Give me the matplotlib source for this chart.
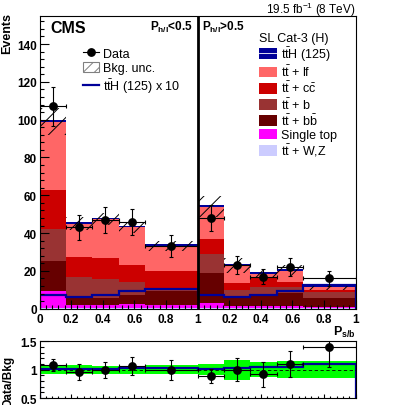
import numpy as np
import matplotlib
matplotlib.use('Agg')
import matplotlib.pyplot as plt
import matplotlib.transforms as mtransforms
from matplotlib.patches import Patch
from matplotlib.lines import Line2D
from matplotlib.ticker import MultipleLocator, FixedLocator, FixedFormatter

plt.rcParams['font.family'] = 'Liberation Sans'
plt.rcParams['mathtext.fontset'] = 'custom'
plt.rcParams['mathtext.rm'] = 'Liberation Sans'
plt.rcParams['mathtext.it'] = 'Liberation Sans:italic'
plt.rcParams['mathtext.bf'] = 'Liberation Sans:bold'
plt.rcParams['hatch.linewidth'] = 0.7

# two P_h/l regions put side by side on one axis (0-1 and 1-2)
edges = np.array([0, 1/6, 1/3, 1/2, 2/3, 1, 7/6, 4/3, 3/2, 5/3, 2])
tick_pos = [0, 0.2, 0.4, 0.6, 0.8, 1.0, 1.2, 1.4, 1.6, 1.8, 2.0]
tick_labels = ['0', '0.2', '0.4', '0.6', '0.8', '1', '0.2', '0.4', '0.6', '0.8', '1']

data = np.array([107, 43, 47, 46, 33, 48, 23, 17, 22, 16])

# background processes, stacked bottom -> top
ttv = np.array([0.5, 0.3, 0.3, 0.4, 0.4, 0.5, 0.3, 0.3, 0.3, 0.2])
single_top = np.array([9.0, 1.7, 1.7, 2.1, 1.6, 2.5, 1.2, 1.0, 1.0, 0.8])
tt_bb = np.array([15.9, 3.5, 3.5, 5.0, 7.5, 15.7, 5.0, 6.2, 7.2, 4.8])
tt_b = np.array([16.8, 11.4, 10.0, 6.5, 1.5, 10.2, 3.5, 3.8, 3.0, 2.9])
tt_cc = np.array([20.6, 10.3, 11.2, 9.1, 9.1, 8.0, 3.6, 4.7, 2.5, 1.3])
tt_lf = np.array([36.2, 17.8, 20.8, 19.9, 12.9, 17.1, 9.4, 2.5, 6.0, 1.5])
tth = np.array([0.74, 0.63, 0.70, 0.93, 1.04, 0.72, 0.60, 0.72, 0.95, 1.23])
bkg_unc = np.array([7.0, 3.4, 3.3, 3.0, 2.6, 5.4, 4.0, 2.4, 3.0, 1.7])

stack = [
    (ttv, '#CCCCFF'),
    (single_top, '#FF00FF'),
    (tt_bb, '#660000'),
    (tt_b, '#993333'),
    (tt_cc, '#CC0000'),
    (tt_lf, '#FF6666'),
]
TTH_COL = '#000099'

lefts = edges[:-1]
widths = np.diff(edges)
centers = lefts + widths / 2

fig = plt.figure(figsize=(3.95, 4.06), dpi=100)
ax = fig.add_axes([0.1, 0.2372, 0.8005, 0.7217])
rax = fig.add_axes([0.1, 0.01724, 0.8005, 0.1397])

# stacked backgrounds
bottom = np.zeros(len(data))
for vals, col in stack:
    ax.bar(lefts, vals, width=widths, bottom=bottom, align='edge', color=col, lw=0)
    bottom = bottom + vals
bkg = bottom.copy()
ax.bar(lefts, tth, width=widths, bottom=bkg, align='edge', color=TTH_COL, lw=0)

# background uncertainty
ax.bar(lefts, 2 * bkg_unc, width=widths, bottom=bkg - bkg_unc, align='edge',
       fill=False, hatch='//', edgecolor='black', lw=0)

# signal x10
ax.stairs(tth * 10, edges, color=TTH_COL, lw=1.6)

# data
ax.errorbar(centers, data, yerr=np.sqrt(data), xerr=widths / 2, fmt='o', color='black',
            ms=5.3, elinewidth=0.8, capsize=1.2, capthick=0.8, zorder=5)

ax.axvline(1.0, color='black', lw=2)

ax.set_xlim(0, 2)
ax.set_ylim(0, 155)
ax.xaxis.set_major_locator(FixedLocator(tick_pos))
ax.xaxis.set_major_formatter(FixedFormatter(tick_labels))
ax.xaxis.set_minor_locator(MultipleLocator(0.04))
ax.yaxis.set_major_locator(MultipleLocator(20))
ax.yaxis.set_minor_locator(MultipleLocator(4))
ax.tick_params(which='both', direction='in', labelsize=8.5, pad=3)
ax.tick_params(which='major', length=6.5, width=0.8)
ax.tick_params(which='minor', length=3.2, width=0.8)
ax.tick_params(axis='y', pad=2)
for lab in ax.get_xticklabels() + ax.get_yticklabels():
    lab.set_fontweight('bold')
for sp in ax.spines.values():
    sp.set_linewidth(0.8)

fig.text(7.5 / 395, 1 - 13 / 406, 'Events', rotation=90, ha='center', va='top',
         fontsize=9, fontweight='bold')
fig.text(355.7 / 395, 1 - 332 / 406, r'$\mathbf{P_{s/b}}$', ha='right', va='center',
         fontsize=9, fontweight='bold')
ax.text(0.034, 0.985, 'CMS', transform=ax.transAxes, ha='left', va='top',
        fontsize=11.5, fontweight='bold')
blend = mtransforms.blended_transform_factory(ax.transData, ax.transAxes)
ax.text(0.97, 0.99, r'$\mathbf{P_{h/l}}$<0.5', transform=blend, fontsize=8.5,
        fontweight='bold', ha='right', va='top')
ax.text(1.03, 0.99, r'$\mathbf{P_{h/l}}$>0.5', transform=blend, fontsize=8.5,
        fontweight='bold', ha='left', va='top')
fig.text(355.7 / 395, 1 - 9.5 / 406, r'19.5 fb$^{-1}$ (8 TeV)', ha='right', va='center',
         fontsize=8.5)

# legends
h_left = [
    Line2D([], [], color='black', marker='o', ms=5.3, lw=0.8),
    Patch(facecolor='white', edgecolor='gray', hatch='///', lw=0.8),
    Line2D([], [], color=TTH_COL, lw=1.6),
]
l_left = ['Data', 'Bkg. unc.', r'$\mathrm{t\bar{t}}$H (125) x 10']
leg1 = fig.legend(h_left, l_left, loc='upper left', bbox_to_anchor=(83 / 395, 1 - 48 / 406),
                  frameon=False, fontsize=9, borderpad=0, borderaxespad=0,
                  handlelength=1.28, handleheight=0.96, handletextpad=0.35, labelspacing=0.15)

h_right = [
    (Patch(facecolor=TTH_COL, lw=0), Line2D([], [], color='white', lw=0.6)),
    Patch(facecolor='#FF6666', lw=0),
    Patch(facecolor='#CC0000', lw=0),
    Patch(facecolor='#993333', lw=0),
    Patch(facecolor='#660000', lw=0),
    Patch(facecolor='#FF00FF', lw=0),
    Patch(facecolor='#CCCCFF', lw=0),
]
l_right = [r'$\mathrm{t\bar{t}}$H (125)', r'$\mathrm{t\bar{t}}$ + lf',
           r'$\mathrm{t\bar{t}}$ + $\mathrm{c\bar{c}}$', r'$\mathrm{t\bar{t}}$ + b',
           r'$\mathrm{t\bar{t}}$ + $\mathrm{b\bar{b}}$', 'Single top',
           r'$\mathrm{t\bar{t}}$ + W,Z']
leg2 = fig.legend(h_right, l_right, loc='upper left', bbox_to_anchor=(259 / 395, 1 - 33 / 406),
                  frameon=False, fontsize=9, borderpad=0, borderaxespad=0,
                  title='SL Cat-3 (H)', title_fontsize=9, alignment='left',
                  handlelength=1.44, handleheight=0.96, handletextpad=0.3, labelspacing=0.06)

# ratio panel
rel = bkg_unc / bkg
rax.bar(lefts, 2 * rel, width=widths, bottom=1 - rel, align='edge', color='#00FF00', lw=0)
rax.axhline(1.0, color='black', lw=0.6, ls=(0, (4, 3)))
rax.stairs((bkg + tth) / bkg, edges, color=TTH_COL, lw=1.6)
rax.errorbar(centers, data / bkg, yerr=np.sqrt(data) / bkg, xerr=widths / 2, fmt='o',
             color='black', ms=5.3, elinewidth=0.8, capsize=1.2, capthick=0.8, zorder=5)
rax.set_xlim(0, 2)
rax.set_ylim(0.5, 1.5)
rax.xaxis.set_major_locator(FixedLocator(tick_pos))
rax.xaxis.set_minor_locator(MultipleLocator(0.04))
rax.xaxis.set_major_formatter(FixedFormatter([''] * len(tick_pos)))
rax.yaxis.set_major_locator(FixedLocator([0.5, 1.0, 1.5]))
rax.yaxis.set_major_formatter(FixedFormatter(['0.5', '1', '1.5']))
rax.yaxis.set_minor_locator(MultipleLocator(0.1))
rax.tick_params(which='both', direction='in', labelsize=8.5, pad=2)
rax.tick_params(axis='x', which='major', length=3, width=0.8)
rax.tick_params(axis='x', which='minor', length=1.5, width=0.8)
rax.tick_params(axis='y', which='major', length=6.5, width=0.8)
rax.tick_params(axis='y', which='minor', length=3.2, width=0.8)
for lab in rax.get_yticklabels():
    lab.set_fontweight('bold')
for sp in rax.spines.values():
    sp.set_linewidth(0.8)
fig.text(8 / 395, 1 - 381 / 406, 'Data/Bkg', rotation=90, ha='center', va='center',
         fontsize=8.5, fontweight='bold')

fig.savefig('out.png', dpi=100)
